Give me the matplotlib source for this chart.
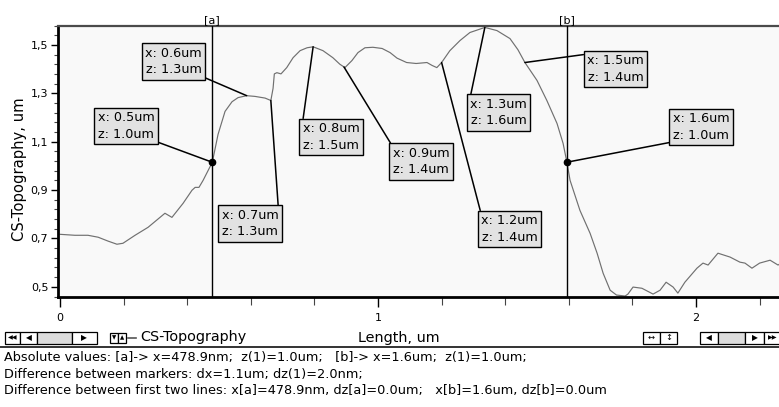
import numpy as np
import matplotlib
matplotlib.use('Agg')
import matplotlib.pyplot as plt
from matplotlib.patches import Rectangle
from matplotlib.lines import Line2D

# ---------------- data ----------------
length_um = [0.0, 0.047, 0.088, 0.12, 0.151, 0.179, 0.198, 0.236, 0.277, 0.33, 0.352,
             0.387, 0.415, 0.425, 0.437, 0.45, 0.479, 0.497, 0.519, 0.541, 0.56, 0.587,
             0.613, 0.645, 0.663, 0.67, 0.674, 0.682, 0.695, 0.713, 0.733, 0.755, 0.777,
             0.796, 0.827, 0.858, 0.88, 0.896, 0.918, 0.937, 0.959, 0.984, 1.013, 1.038,
             1.06, 1.09, 1.12, 1.154, 1.17, 1.185, 1.2, 1.226, 1.258, 1.289, 1.336, 1.374,
             1.415, 1.44, 1.462, 1.5, 1.531, 1.563, 1.582, 1.594, 1.604, 1.635, 1.667,
             1.689, 1.708, 1.73, 1.75, 1.777, 1.786, 1.802, 1.83, 1.865, 1.887, 1.906,
             1.928, 1.943, 1.965, 2.003, 2.022, 2.038, 2.069, 2.107, 2.138, 2.154, 2.176,
             2.2, 2.233, 2.258, 2.27]
topography_um = [0.717, 0.713, 0.713, 0.705, 0.689, 0.676, 0.68, 0.713, 0.746, 0.804, 0.787,
                 0.845, 0.899, 0.911, 0.911, 0.94, 1.015, 1.13, 1.225, 1.265, 1.282, 1.29,
                 1.287, 1.28, 1.27, 1.32, 1.38, 1.385, 1.38, 1.406, 1.447, 1.476, 1.488,
                 1.492, 1.476, 1.447, 1.42, 1.406, 1.435, 1.468, 1.488, 1.49, 1.485, 1.468,
                 1.445, 1.427, 1.423, 1.427, 1.415, 1.406, 1.427, 1.476, 1.518, 1.551, 1.572,
                 1.559, 1.526, 1.48, 1.427, 1.353, 1.27, 1.175, 1.093, 1.015, 0.94, 0.816,
                 0.721, 0.639, 0.556, 0.486, 0.466, 0.462, 0.47, 0.499, 0.494, 0.47, 0.486,
                 0.519, 0.499, 0.474, 0.519, 0.577, 0.598, 0.59, 0.639, 0.623, 0.602, 0.598,
                 0.577, 0.598, 0.61, 0.59, 0.6]

marker_a = 0.4789
marker_b = 1.594
marker_names = ["[a]", "[b]"]

ann_x = [0.4789, 0.587, 0.663, 0.796, 0.893, 1.2, 1.336, 1.462, 1.594]
ann_labels = ["x: 0.5um\nz: 1.0um", "x: 0.6um\nz: 1.3um", "x: 0.7um\nz: 1.3um",
              "x: 0.8um\nz: 1.5um", "x: 0.9um\nz: 1.4um", "x: 1.2um\nz: 1.4um",
              "x: 1.3um\nz: 1.6um", "x: 1.5um\nz: 1.4um", "x: 1.6um\nz: 1.0um"]

y_ticks = [0.5, 0.7, 0.9, 1.1, 1.3, 1.5]
y_ticklabels = ["0,5", "0,7", "0,9", "1,1", "1,3", "1,5"]
x_ticks = [0, 1, 2]
x_ticklabels = ["0", "1", "2"]

y_label = "CS-Topography, um"
x_label = "Length, um"
legend_label = "CS-Topography"
info_lines = [
    "Absolute values: [a]-> x=478.9nm;  z(1)=1.0um;   [b]-> x=1.6um;  z(1)=1.0um;",
    "Difference between markers: dx=1.1um; dz(1)=2.0nm;",
    "Difference between first two lines: x[a]=478.9nm, dz[a]=0.0um;   x[b]=1.6um, dz[b]=0.0um",
]

# ---------------- layout (pixels) ----------------
W, H = 779, 407
# box centers (px from left, px from top) and line attachment corner
ann_box = [(126, 126, (1, 0)), (173.5, 61.5, (1, 0)), (250, 223.5, (1, 1)),
           (331, 137, (0, 1)), (421, 161.5, (0, 1)), (509.5, 229, (0, 1)),
           (498.5, 112.5, (0, 1)), (615.5, 69, (0, 1)), (701, 127, (0, 0))]

FONT = "DejaVu Sans"
plt.rcParams['font.family'] = [FONT]

fig = plt.figure(figsize=(W / 100, H / 100), dpi=100)
fig.patch.set_facecolor('white')

ax_left, ax_top, ax_bottom = 58, 25.5, 296.5
ax = fig.add_axes([ax_left / W, (H - ax_bottom) / H, (W - ax_left) / W, (ax_bottom - ax_top) / H])
ax.set_facecolor('#f9f9f9')

x0_px, px_per_unit = 60, 318.0
ax.set_xlim((ax_left - x0_px) / px_per_unit, (W - x0_px) / px_per_unit)
ax.set_ylim(0.46, 1.576)

ax.plot(length_um, topography_um, color='#707070', lw=0.85, zorder=2)

for xm, nm in zip([marker_a, marker_b], marker_names):
    ax.axvline(xm, color='black', lw=1.0, zorder=3)
    zm = np.interp(xm, length_um, topography_um)
    ax.plot([xm], [zm], 'o', color='black', ms=4.5, zorder=5)
    ax.text(xm, 1.003, nm, transform=ax.get_xaxis_transform(), ha='center', va='bottom',
            fontsize=8, color='black')

for xa, lab, (cx, cy, rp) in zip(ann_x, ann_labels, ann_box):
    za = np.interp(xa, length_um, topography_um)
    ax.annotate(lab, xy=(xa, za), xycoords='data', xytext=(cx, H - cy),
                textcoords='figure pixels', ha='center', va='center', fontsize=9.2,
                linespacing=1.38, annotation_clip=False,
                bbox=dict(boxstyle='square,pad=0.25', fc='#e2e2e2', ec='black', lw=1.0),
                arrowprops=dict(arrowstyle='-', color='black', lw=1.1, relpos=rp,
                                shrinkA=0, shrinkB=0), zorder=6)

ax.set_yticks(y_ticks)
ax.set_yticklabels(y_ticklabels, fontsize=8)
ax.set_yticks(np.arange(0.46, 1.58, 0.04), minor=True)
ax.set_xticks(x_ticks)
ax.set_xticklabels(x_ticklabels, fontsize=8)
ax.set_xticks(np.arange(0, 2.27, 0.2), minor=True)
ax.tick_params(axis='y', which='major', length=5, width=1, pad=2, colors='black')
ax.tick_params(axis='y', which='minor', length=3, width=0.8, color='#444444')
ax.tick_params(axis='x', which='major', length=7, width=1, pad=5)
ax.tick_params(axis='x', which='minor', length=6, width=0.8, color='#444444')

for s in ['left', 'bottom']:
    ax.spines[s].set_linewidth(2)
    ax.spines[s].set_color('black')
ax.spines['top'].set_linewidth(1.6)
ax.spines['top'].set_color('#4a4a4a')
ax.spines['right'].set_visible(False)

fig.text(20 / W, 1 - 169 / H, y_label, rotation=90, ha='center', va='center', fontsize=10.6)
fig.text(399 / W, 1 - 338 / H, x_label, ha='center', va='center', fontsize=10.4)


# ---------------- toolbar widgets ----------------
def fx(x):
    return x / W


def fy(y):
    return 1 - y / H


def button(x1, x2, y1, y2, glyph=None, fc='white', fs=6):
    fig.add_artist(Rectangle((fx(x1), fy(y2)), fx(x2) - fx(x1), fy(y1) - fy(y2),
                             transform=fig.transFigure, fc=fc, ec='black', lw=0.9))
    if glyph:
        fig.text(fx((x1 + x2) / 2), fy((y1 + y2) / 2), glyph, ha='center', va='center',
                 fontsize=fs, color='black')


ty1, ty2 = 331.5, 343.5
button(5, 20, ty1, ty2, '◀◀', fs=4.5)
button(20, 37, ty1, ty2, '◀', fs=5.5)
button(37, 72, ty1, ty2, None, fc='#dcdcdc')
button(72, 97, ty1, ty2, None)
fig.text(fx(84), fy(337.5), '▶', ha='center', va='center', fontsize=5.5)
button(110, 118, ty1 + 1, ty2 - 1, '▼', fs=4)
button(118, 126, ty1 + 1, ty2 - 1, '▲', fs=4)
fig.add_artist(Line2D([fx(128), fx(136)], [fy(337.5), fy(337.5)], transform=fig.transFigure,
                      color='#555555', lw=1.2))
fig.text(fx(140), fy(337.5), legend_label, ha='left', va='center', fontsize=10.4)

button(643, 660, ty1, ty2, '↔', fs=6)
button(660, 677, ty1, ty2, '↕', fs=6)
button(700, 718, ty1, ty2, '◀', fs=5.5)
button(718, 745, ty1, ty2, None, fc='#dcdcdc')
button(745, 764, ty1, ty2, '▶', fs=5.5)
button(764, 782, ty1, ty2, '▶▶', fs=4.5)

fig.add_artist(Line2D([0, 1], [fy(347), fy(347)], transform=fig.transFigure,
                      color='#333333', lw=1.4))

for i, line in enumerate(info_lines):
    fig.text(fx(4), fy(357.5 + 16.6 * i), line, ha='left', va='center', fontsize=9.3)

fig.savefig('out.png', dpi=100)
